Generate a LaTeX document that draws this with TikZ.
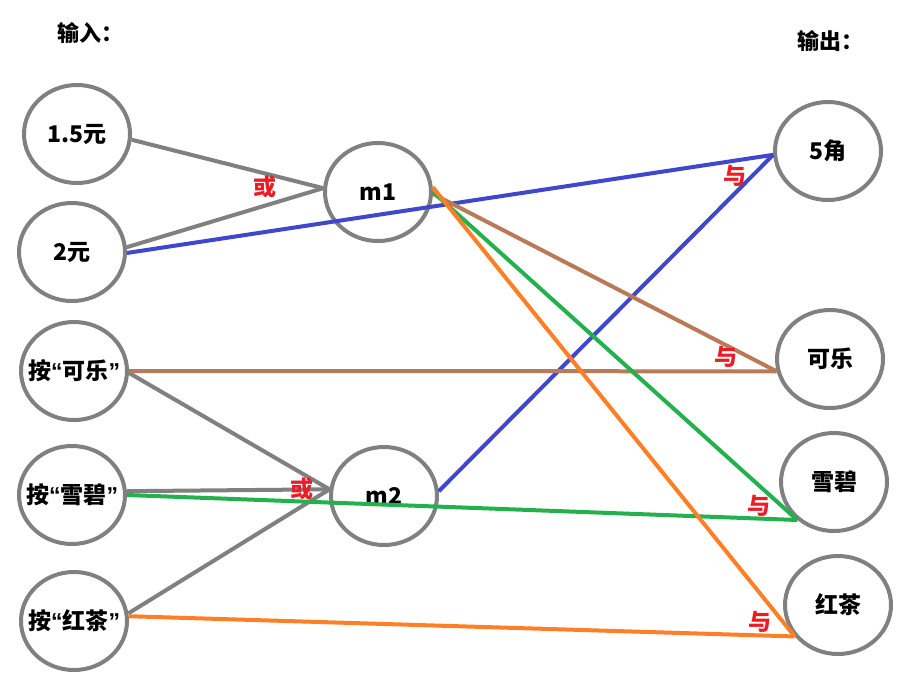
\documentclass[tikz,border=0pt]{standalone}
\usepackage{fontspec}
\setmainfont{Noto Sans CJK SC}
\newfontfamily\latin{Liberation Sans}
\usetikzlibrary{shapes.geometric}
\definecolor{cgray}{RGB}{128,128,128}
\definecolor{cblue}{RGB}{63,72,204}
\definecolor{cbrown}{RGB}{185,122,87}
\definecolor{cgreen}{RGB}{34,177,76}
\definecolor{corange}{RGB}{255,127,39}
\definecolor{cred}{RGB}{237,28,36}
\newcommand\ztext[1]{\makebox[0pt]{#1}}
\begin{document}
\begin{tikzpicture}[x=1pt,y=-1pt,
  circ/.style={ellipse,draw=cgray,line width=4pt,minimum width=106pt,minimum height=98pt,inner sep=0pt,font=\bfseries\fontsize{23}{26}\selectfont},
  conn/.style={line width=4pt},
  gconn/.style={line width=4pt,draw=cgray},
  lbl/.style={text=cred,font=\bfseries\fontsize{23}{26}\selectfont,inner sep=0pt},
  ttl/.style={font=\bfseries\fontsize{22}{26}\selectfont,inner sep=0pt,anchor=west}]
\useasboundingbox (0,0) rectangle (901,683);
\node[ttl] (tin) at (57,33) {输入：};
\node[ttl] (tout) at (797,41) {输出：};
\node[circ] (in1) at (77,134) {\ztext{1.5元}};
\node[circ] (in2) at (72,252) {\ztext{2元}};
\node[circ] (in3) at (74,371) {\ztext{按{\latin “}可乐{\latin ”}}};
\node[circ] (in4) at (72,495) {\ztext{按{\latin “}雪碧{\latin ”}}};
\node[circ] (in5) at (74,621) {\ztext{按{\latin “}红茶{\latin ”}}};
\node[circ] (m1) at (378,192) {\ztext{m1}};
\node[circ] (m2) at (384,496) {\ztext{m2}};
\node[circ] (o1) at (828,151) {\ztext{5角}};
\node[circ] (o2) at (830,359) {\ztext{可乐}};
\node[circ] (o3) at (834,482) {\ztext{雪碧}};
\node[circ] (o4) at (838,605) {\ztext{红茶}};
\draw[gconn] (in1.-6) -- (m1.176);
\draw[gconn] (in2.5) -- (m1.176);
\draw[gconn] (in3.-2) -- (m2.173);
\draw[gconn] (in4.4) -- (m2.173);
\draw[gconn] (in5.8) -- (m2.173);
\draw[conn,cblue] (in2.-1) -- (o1.184);
\draw[conn,cblue] (m2.5) -- (o1.184);
\draw[conn,cbrown] (m1.-2) -- (o2.193);
\draw[conn,cbrown] (in3.0) -- (o2.193);
\draw[conn,cgreen] (m1.0) -- (o3.226);
\draw[conn,cgreen] (in4.0) -- (o3.226);
\draw[conn,corange] (m1.5) -- (o4.216);
\draw[conn,corange] (in5.5) -- (o4.216);
\node[lbl] (h1) at (265,187) {或};
\node[lbl] (h2) at (302,489) {或};
\node[lbl] (y1) at (735,176) {与};
\node[lbl] (y2) at (726,357) {与};
\node[lbl] (y3) at (759,506) {与};
\node[lbl] (y4) at (760,622) {与};
\end{tikzpicture}
\end{document}
